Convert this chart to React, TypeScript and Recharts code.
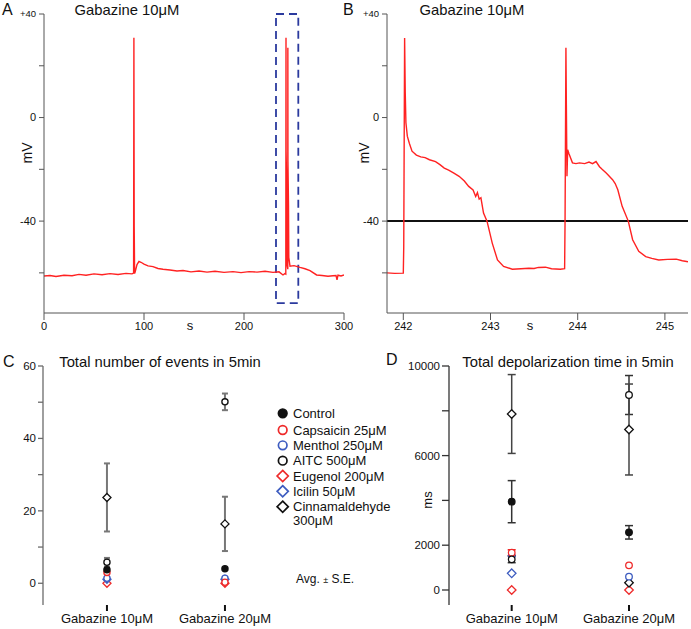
import React from 'react';
import {
  LineChart, Line, XAxis, YAxis, ReferenceArea, ReferenceLine,
  ScatterChart, Scatter, ErrorBar,
} from 'recharts';

const FONT = '"Liberation Sans", Arial, Helvetica, sans-serif';
const RED = '#ee2a2a';
const BLUE = '#3d5cc0';
const BLACK = '#111111';

// ---------- Panel A: 0-300 s trace ----------
const traceATime = [0, 6, 12, 20, 28, 35, 42, 50, 58, 66, 74, 82, 88, 89.6, 89.9, 90.2, 90.6, 91.2, 93, 95, 97, 100, 104, 109, 114, 119, 126, 133, 139, 147, 155, 163, 171, 180, 189, 197, 205, 213, 221, 229, 235, 239, 240.8, 241.8, 242.0, 242.1, 242.9, 243.1, 243.8, 243.86, 243.95, 244.5, 244.8, 246, 250, 256, 261, 266, 272.6, 278, 284, 289, 292, 293, 294, 297, 300];
const traceAVolt = [-61.2, -61.0, -61.4, -60.9, -61.1, -60.6, -60.9, -60.4, -60.7, -60.3, -60.6, -60.2, -60.4, -60.1, 30.8, -42, -60.2, -59.6, -56.8, -55.6, -55.9, -56.6, -57.3, -57.6, -58.3, -58.6, -58.9, -59.3, -59.1, -59.6, -59.3, -59.7, -59.4, -59.8, -59.5, -59.9, -59.5, -59.7, -59.4, -59.8, -59.6, -60.8, -60.3, -60.5, 30.8, -13, -32, -57, -58.6, 27, -17, -34, -54, -57.4, -57.2, -57.9, -58.4, -59.1, -60.8, -61.0, -61.3, -61.1, -61.0, -62.7, -60.9, -61.2, -60.8];

// ---------- Panel B: zoom 241.8-245.3 s ----------
const traceBTime = [241.81, 241.9, 242.0, 242.005, 242.015, 242.022, 242.03, 242.046, 242.07, 242.1, 242.15, 242.2, 242.25, 242.3, 242.37, 242.42, 242.47, 242.52, 242.58, 242.64, 242.7, 242.75, 242.8, 242.83, 242.85, 242.87, 242.89, 242.92, 242.96, 243.02, 243.08, 243.15, 243.25, 243.35, 243.44, 243.5, 243.55, 243.63, 243.7, 243.8, 243.85, 243.855, 243.865, 243.87, 243.877, 243.885, 243.9, 243.94, 243.98, 244.02, 244.08, 244.13, 244.17, 244.21, 244.25, 244.28, 244.33, 244.4, 244.43, 244.46, 244.51, 244.58, 244.63, 244.7, 244.78, 244.85, 244.93, 245.03, 245.13, 245.2, 245.265];
const traceBVolt = [-60, -60.2, -60.1, -50, 30.7, 10, -2, -7.2, -10, -13, -14.5, -15.2, -15.5, -16.3, -17, -18.2, -19.5, -20.3, -21.5, -22.7, -24.5, -26.6, -28, -30.5, -29, -31.5, -31, -36.9, -40, -48.5, -55, -57.5, -58.6, -58.4, -58.2, -58.3, -57.9, -57.8, -58.4, -58.6, -58.4, -40, 27, 5, -22.7, -12.4, -14, -17.5, -17.8, -17.5, -17.8, -17.2, -17.8, -17.0, -19, -20, -21.5, -24, -25.5, -27.9, -34.3, -40, -47.2, -51.7, -53.7, -54.4, -55, -54.8, -54.7, -55.3, -55.7];

const voltTicks = [40, 20, 0, -20, -40, -60];
const timeTicksA = [0, 100, 200, 300];
const timeTicksB = [242, 243, 244, 245];
const zoomBoxA = [232, 254.3, -71.7, 40]; // t1, t2, v1, v2

// ---------- Panels C / D ----------
const categories = ['Gabazine 10μM', 'Gabazine 20μM'];
const treatments = ['Control', 'Capsaicin 25μM', 'Menthol 250μM', 'AITC 500μM', 'Eugenol 200μM', 'Icilin 50μM', 'Cinnamaldehyde 300μM'];

const eventsMean10 = [3.7, 3.0, 1.4, 5.8, 0, 1.1, 23.7];
const eventsSE10 = [0.4, 0, 0, 1.2, 0, 0, 9.4];
const eventsMean20 = [4.0, 0.3, 1.4, 50.1, 0, 1.1, 16.4];
const eventsSE20 = [0, 0, 0, 2.3, 0, 0, 7.5];

const depolMean10 = [3943, 1666, 1517, 1369, 0, 744, 7857];
const depolSE10 = [940, 130, 0, 150, 0, 0, 1760];
const depolMean20 = [2574, 1101, 595, 8705, 0, 327, 7165];
const depolSE20 = [300, 0, 0, 870, 0, 0, 2030];

const eventTicks = [60, 50, 40, 30, 20, 10, 0];
const eventLabelled = [60, 40, 20, 0];
const depolTicks = [10000, 8000, 6000, 4000, 2000, 0];
const depolLabelled = [10000, 6000, 2000, 0];

// styles (kept apart from data)
const markerKind = ['circle', 'circle', 'circle', 'circle', 'diamond', 'diamond', 'diamond'];
const markerColor = [BLACK, RED, BLUE, BLACK, RED, BLUE, BLACK];
const markerFilled = [true, false, false, false, false, false, false];
const drawOrder = [4, 5, 2, 1, 0, 3, 6];
const errColorC = ['#777', '#777', '#777', '#777', '#777', '#777', '#777'];
const errColorD = ['#333', RED, '#333', '#333', '#333', '#333', '#444'];

const traceA = traceATime.map((t, i) => ({ t, v: traceAVolt[i] }));
const traceB = traceBTime.map((t, i) => ({ t, v: traceBVolt[i] }));

const buildSeries = (m10: number[], s10: number[], m20: number[], s20: number[], k: number) => [
  { x: 1, y: m10[k], e: s10[k] },
  { x: 2, y: m20[k], e: s20[k] },
];

function Marker(props: any) {
  const { cx, cy, kind, color, filled, r, sw, strokeOverride } = props;
  if (cx == null || cy == null) return <g />;
  const stroke = strokeOverride || color;
  if (kind === 'circle') {
    return <circle cx={cx} cy={cy} r={r} fill={filled ? color : '#fff'} stroke={stroke} strokeWidth={sw} />;
  }
  const h = r * 1.3;
  return (
    <path
      d={`M${cx},${cy - h}L${cx + h},${cy}L${cx},${cy + h}L${cx - h},${cy}Z`}
      fill="#fff"
      stroke={stroke}
      strokeWidth={sw}
    />
  );
}

const txt = { fontFamily: FONT, fill: BLACK } as const;

const makeVoltTick = (props: any) => {
  const { x, y, payload } = props;
  const v = payload.value;
  if (v === 40) return <text x={x} y={y} dy="0.35em" textAnchor="end" fontSize={9.5} {...txt}>+40</text>;
  if (v === 0 || v === -40) return <text x={x} y={y} dy="0.35em" textAnchor="end" fontSize={11} {...txt}>{String(v)}</text>;
  return <g />;
};

const makeTimeTick = (props: any) => {
  const { x, y, payload } = props;
  return <text x={x} y={y} dy="0.71em" textAnchor="middle" fontSize={11} {...txt}>{String(payload.value)}</text>;
};

const makeLabelledTick = (labelled: number[]) => (props: any) => {
  const { x, y, payload } = props;
  if (!labelled.includes(payload.value)) return <g />;
  return <text x={x} y={y} dy="0.35em" textAnchor="end" fontSize={11.5} {...txt}>{String(payload.value)}</text>;
};

const makeCatTick = (props: any) => {
  const { x, y, payload } = props;
  return <text x={x} y={y} dy="0.71em" textAnchor="middle" fontSize={13} {...txt}>{categories[payload.value - 1]}</text>;
};

function TracePanel(props: { data: any[]; domain: [number, number]; ticks: number[]; width: number; right: number; box?: number[]; threshold?: boolean }) {
  const { data, domain, ticks, width, right, box, threshold } = props;
  return (
    <LineChart width={width} height={340} data={data} margin={{ top: 14, right, bottom: 7, left: 0 }}>
      <XAxis
        type="number"
        dataKey="t"
        domain={domain}
        allowDataOverflow
        ticks={ticks}
        interval={0}
        height={20}
        tickSize={7}
        tickMargin={2}
        stroke="#555"
        tick={makeTimeTick}
      />
      <YAxis
        type="number"
        domain={[-75.5, 40]}
        allowDataOverflow
        ticks={voltTicks}
        interval={0}
        width={44}
        tickSize={5}
        tickMargin={3}
        stroke="#555"
        tick={makeVoltTick}
      />
      {box && (
        <ReferenceArea
          x1={box[0]}
          x2={box[1]}
          y1={box[2]}
          y2={box[3]}
          fill="none"
          fillOpacity={0}
          stroke="#2b3a9e"
          strokeWidth={1.8}
          strokeDasharray="8 5"
          ifOverflow="visible"
        />
      )}
      {threshold && <ReferenceLine y={-40} stroke={BLACK} strokeWidth={2} />}
      <Line type="linear" dataKey="v" stroke="#ff2222" strokeWidth={1.4} dot={false} isAnimationActive={false} />
    </LineChart>
  );
}

function DotPanel(props: {
  width: number; plotW: number; yw: number; domainX: [number, number]; domainY: [number, number];
  ticks: number[]; labelled: number[]; m10: number[]; s10: number[]; m20: number[]; s20: number[];
  errColor: string[]; axisColor: string; tickSize: number; r: number; errW: number; errSW: number; overrides?: Record<string, string>;
}) {
  const p = props;
  return (
    <ScatterChart width={p.width} height={289} margin={{ top: 26, right: p.width - p.yw - p.plotW, bottom: 0, left: 0 }}>
      <XAxis
        type="number"
        dataKey="x"
        domain={p.domainX}
        allowDataOverflow
        ticks={[1, 2]}
        interval={0}
        height={24}
        axisLine={false}
        tickLine={{ stroke: BLACK, strokeWidth: 2 }}
        tickSize={6}
        tickMargin={3}
        tick={makeCatTick}
      />
      <YAxis
        type="number"
        dataKey="y"
        domain={p.domainY}
        allowDataOverflow
        ticks={p.ticks}
        interval={0}
        width={p.yw}
        tickSize={p.tickSize}
        tickMargin={2}
        stroke={p.axisColor}
        strokeWidth={1.3}
        tick={makeLabelledTick(p.labelled)}
      />
      {drawOrder.map((k) => (
        <Scatter
          key={treatments[k]}
          name={treatments[k]}
          data={buildSeries(p.m10, p.s10, p.m20, p.s20, k)}
          isAnimationActive={false}
          shape={(sp: any) => (
            <Marker
              cx={sp.cx}
              cy={sp.cy}
              kind={markerKind[k]}
              color={markerColor[k]}
              filled={markerFilled[k]}
              r={p.r}
              sw={1.3}
              strokeOverride={p.overrides ? p.overrides[`${k}-${sp.payload?.x}`] : undefined}
            />
          )}
        >
          <ErrorBar dataKey="e" direction="y" width={p.errW} stroke={p.errColor[k]} strokeWidth={p.errSW} />
        </Scatter>
      ))}
    </ScatterChart>
  );
}

const legendRowsY = [413.3, 430, 445.3, 460.7, 476, 491.3, 506.7];

export default function App() {
  return (
    <div style={{ position: 'absolute', left: 0, top: 0, width: 691, height: 629, background: '#fff', overflow: 'hidden' }}>
      <div style={{ position: 'absolute', left: 0, top: 0 }}>
        <TracePanel data={traceA} domain={[0, 300]} ticks={timeTicksA} width={362} right={18} box={zoomBoxA} />
      </div>
      <div style={{ position: 'absolute', left: 343, top: 0 }}>
        <TracePanel data={traceB} domain={[241.813, 245.265]} ticks={timeTicksB} width={348} right={3} threshold />
      </div>
      <div style={{ position: 'absolute', left: 0, top: 340 }}>
        <DotPanel
          width={285} plotW={236} yw={43} domainX={[0.458, 2.458]} domainY={[-6, 60]}
          ticks={eventTicks} labelled={eventLabelled}
          m10={eventsMean10} s10={eventsSE10} m20={eventsMean20} s20={eventsSE20}
          errColor={errColorC} axisColor="#6b6b6b" tickSize={5} r={3.1} errW={3} errSW={2}
        />
      </div>
      <div style={{ position: 'absolute', left: 405, top: 340 }}>
        <DotPanel
          width={270} plotW={220} yw={44} domainX={[0.4655, 2.341]} domainY={[-670, 10000]}
          ticks={depolTicks} labelled={depolLabelled}
          m10={depolMean10} s10={depolSE10} m20={depolMean20} s20={depolSE20}
          errColor={errColorD} axisColor="#333" tickSize={7} r={3.3} errW={4} errSW={1.5}
          overrides={{ '5-2': BLACK }}
        />
      </div>
      <svg width={691} height={629} style={{ position: 'absolute', left: 0, top: 0, pointerEvents: 'none' }}>
        <g fontFamily={FONT} fill={BLACK}>
          <text x={2} y={15} fontSize={16}>A</text>
          <text x={127} y={15} fontSize={14.8} textAnchor="middle">Gabazine 10μM</text>
          <text transform="translate(32,153) rotate(-90)" fontSize={14} textAnchor="middle">mV</text>
          <text x={190} y={330} fontSize={13} textAnchor="middle">s</text>

          <text x={343} y={15} fontSize={16}>B</text>
          <text x={472} y={15} fontSize={14.8} textAnchor="middle">Gabazine 10μM</text>
          <text transform="translate(369,153) rotate(-90)" fontSize={14} textAnchor="middle">mV</text>
          <text x={530} y={330} fontSize={13} textAnchor="middle">s</text>

          <text x={3} y={367} fontSize={16}>C</text>
          <text x={160} y={367} fontSize={14.8} textAnchor="middle">Total number of events in 5min</text>

          <text x={386} y={365} fontSize={16}>D</text>
          <text x={568} y={367} fontSize={14.8} textAnchor="middle">Total depolarization time in 5min</text>
          <text transform="translate(432,500) rotate(-90)" fontSize={13} textAnchor="middle">ms</text>

          {treatments.map((name, k) => {
            const cy = legendRowsY[k];
            const parts = name === 'Cinnamaldehyde 300μM' ? ['Cinnamaldehyde', '300μM'] : [name];
            return (
              <g key={name}>
                <Marker cx={282.7} cy={cy} kind={markerKind[k]} color={markerColor[k]} filled={markerFilled[k]} r={4.3} sw={1.7} />
                <text x={293} y={cy} dy="0.36em" fontSize={13}>{parts[0]}</text>
                {parts[1] && <text x={293} y={cy + 13.5} dy="0.36em" fontSize={13}>{parts[1]}</text>}
              </g>
            );
          })}
          <text x={296} y={583} fontSize={12}>
            Avg. <tspan fontSize={9}>±</tspan> S.E.
          </text>
        </g>
      </svg>
    </div>
  );
}
